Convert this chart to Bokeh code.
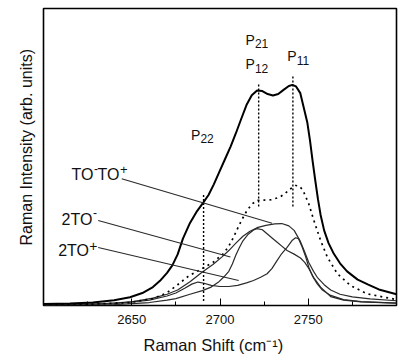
import math
from bokeh.plotting import figure
from bokeh.models import Range1d, FixedTicker, Title
from bokeh.core.properties import value
from bokeh.embed import file_html
from bokeh.resources import INLINE

# ---- data (Raman shift, intensity in arb. units 0..100) ----
total_x = [2600, 2615, 2628, 2640, 2649, 2656, 2662, 2666, 2670, 2673, 2676, 2679, 2683, 2687,
           2690.7, 2693.5, 2696.5, 2700, 2703, 2706, 2709, 2712, 2715, 2718, 2721, 2724, 2727,
           2730, 2733, 2736, 2739, 2741, 2743, 2745.5, 2747.5, 2749.5, 2751, 2752.5, 2754,
           2755.5, 2757, 2759, 2761.5, 2764.5, 2768, 2772, 2778, 2784, 2790, 2800]
total_y = [0.5, 0.7, 1.0, 1.8, 2.8, 4.2, 6.2, 8.3, 11.0, 13.5, 17.2, 22.5, 27.8, 31.8,
           34.8, 37.2, 40.8, 45.5, 49.5, 53.5, 58.0, 62.8, 67.5, 70.8, 72.4, 72.2, 71.2,
           70.7, 71.2, 72.6, 73.9, 74.3, 73.8, 71.5, 66.5, 61.5, 55.5, 48.5, 42.0,
           35.8, 30.5, 25.3, 21.0, 17.4, 14.2, 11.5, 8.7, 7.0, 5.4, 3.8]

sum_x = [2600, 2630, 2649, 2662, 2670, 2676, 2682, 2690, 2696, 2702, 2705, 2707.7, 2710,
         2712.5, 2715.3, 2718.2, 2721, 2725, 2729, 2734, 2737, 2740, 2742.8, 2745, 2747,
         2750.3, 2753.2, 2757, 2760.8, 2766.5, 2774, 2783.5, 2800]
sum_y = [0.3, 0.5, 1.0, 2.3, 4.3, 7.0, 9.8, 12.5, 14.5, 17.5, 20.0, 23.0, 26.0,
         29.0, 32.0, 34.2, 35.4, 35.5, 35.6, 36.5, 37.8, 39.3, 40.4, 40.2, 38.8,
         34.2, 28.6, 21.9, 16.3, 10.7, 6.7, 3.9, 2.0]

toto_x = [2600, 2630, 2650, 2662, 2670, 2676, 2683, 2690, 2696, 2701, 2705, 2709, 2713, 2717,
          2721, 2726, 2731, 2735, 2739, 2742, 2745.6, 2748, 2750.3, 2753, 2755.1, 2759,
          2762.7, 2768, 2775, 2785, 2800]
toto_y = [0.2, 0.5, 1.2, 2.5, 3.8, 5.2, 8.0, 11.3, 13.8, 16.3, 18.5, 21.0, 23.3, 25.0,
          26.2, 27.0, 27.5, 27.6, 26.8, 25.3, 21.5, 18.0, 14.5, 11.5, 9.5, 7.0,
          5.2, 3.8, 2.9, 2.2, 1.6]

to2m_x = [2600, 2640, 2660, 2670, 2675, 2683, 2690, 2695, 2699, 2702, 2705, 2707, 2709, 2711,
          2713, 2716, 2719, 2721, 2724, 2727, 2730, 2732.4, 2735, 2738, 2742, 2745.6, 2748,
          2750.3, 2753, 2757, 2762.7, 2770, 2780, 2800]
to2m_y = [0.1, 0.3, 1.0, 1.8, 2.3, 3.8, 5.0, 6.2, 7.8, 9.5, 11.5, 14.0, 17.0, 19.5,
          21.8, 24.0, 25.4, 25.9, 25.5, 24.0, 22.5, 21.3, 20.0, 18.5, 17.3, 16.0, 14.5,
          12.5, 9.5, 6.2, 3.0, 1.8, 1.2, 0.8]

to2p_x = [2600, 2640, 2660, 2670, 2675, 2680, 2684, 2687.5, 2691, 2695, 2700, 2705, 2710, 2715,
          2719, 2723, 2726.7, 2729.5, 2732.4, 2735, 2738, 2741, 2742.8, 2744.5, 2746.6,
          2748.5, 2750.3, 2752.5, 2755.1, 2758, 2762.7, 2770, 2780, 2800]
to2p_y = [0.2, 0.6, 1.8, 3.2, 4.2, 5.8, 7.2, 7.9, 7.5, 6.8, 6.4, 6.4, 6.8, 7.6,
          8.4, 9.5, 10.7, 12.5, 15.2, 17.5, 19.6, 22.0, 22.8, 22.5, 19.6,
          16.5, 12.9, 9.8, 7.3, 5.2, 3.4, 2.0, 1.3, 0.8]

peak_x = [2690.7, 2721.9, 2741.3]
peak_y0 = [1.5, 33.3, 33.3]
peak_y1 = [37.8, 74.7, 77.5]

x_ticks = [2650, 2700, 2750]
x_minor = [2625, 2675, 2725, 2775]

FONT = "Liberation Sans"
INK = "#111111"
THIN = "#2a2a2a"

p = figure(width=402, height=360, output_backend="svg", toolbar_location=None,
           x_range=Range1d(2600, 2800), y_range=Range1d(0, 100),
           min_border_left=43, min_border_right=6, min_border_top=8, min_border_bottom=55)
p.xgrid.visible = False
p.ygrid.visible = False
p.outline_line_color = "black"
p.outline_line_width = 1.6
p.background_fill_color = "white"
p.border_fill_color = "white"

# axes
p.yaxis.visible = False
ax = p.xaxis[0]
ax.ticker = FixedTicker(ticks=x_ticks, minor_ticks=x_minor)
ax.axis_line_color = None
ax.major_tick_in = 7
ax.major_tick_out = 0
ax.minor_tick_in = 4
ax.minor_tick_out = 0
ax.major_tick_line_color = "black"
ax.minor_tick_line_color = "black"
ax.major_label_text_font = FONT
ax.major_label_text_font_size = "13px"
ax.major_label_text_color = INK
ax.major_label_standoff = 9

p.add_layout(Title(text="Raman Shift (cm\u207b\u00b9)", align="left", offset=100,
                   standoff=14, text_font=FONT, text_font_size="16.5px",
                   text_font_style="normal", text_color=INK), "below")
p.add_layout(Title(text="Raman Intensity (arb. units)", align="left", offset=60,
                   standoff=17, text_font=FONT, text_font_size="16px",
                   text_font_style="normal", text_color=INK), "left")

# curves
p.line(toto_x, toto_y, line_color=THIN, line_width=1.2)
p.line(to2m_x, to2m_y, line_color=THIN, line_width=1.2)
p.line(to2p_x, to2p_y, line_color=THIN, line_width=1.2)
p.line(sum_x, sum_y, line_color="black", line_width=1.7, line_dash="2 4")
p.line(total_x, total_y, line_color="black", line_width=2.0)

# peak markers
p.segment(x0=peak_x, y0=peak_y0, x1=peak_x, y1=peak_y1, line_color="black",
          line_width=1.4, line_dash="2 2")

# pointer lines
p.segment(x0=[2644.3, 2631.0, 2631.0], y0=[42.7, 28.6, 19.5],
          x1=[2729.5, 2705.9, 2710.6], y1=[27.7, 16.3, 8.4],
          line_color=THIN, line_width=1.1)


def rich(x, y, parts):
    for t, size, dx, dy in parts:
        p.text(x=[x], y=[y], text=[t], x_offset=dx, y_offset=dy,
               text_font=value(FONT), text_font_size=f"{size}px",
               text_baseline="alphabetic", text_align="left", text_color=INK)


rich(2615.9, 44.0, [("TO", 16, 0, 0), ("-", 12, 22.5, -6), ("TO", 16, 26, 0), ("+", 13, 48.5, -5)])
rich(2610.2, 28.8, [("2TO", 16, 0, 0), ("-", 12, 31.5, -7)])
rich(2608.3, 18.5, [("2TO", 16, 0, 0), ("+", 14, 31, -4.5)])

for px_, py_, sub in [(2683.5, 57.5, "22"), (2714.4, 89.5, "21"), (2714.4, 81.3, "12"), (2738.1, 84.0, "11")]:
    rich(px_, py_, [("P", 14, 0, 0), (sub, 12, 9.5, 4)])

open("out.html", "w").write(file_html(p, INLINE))
